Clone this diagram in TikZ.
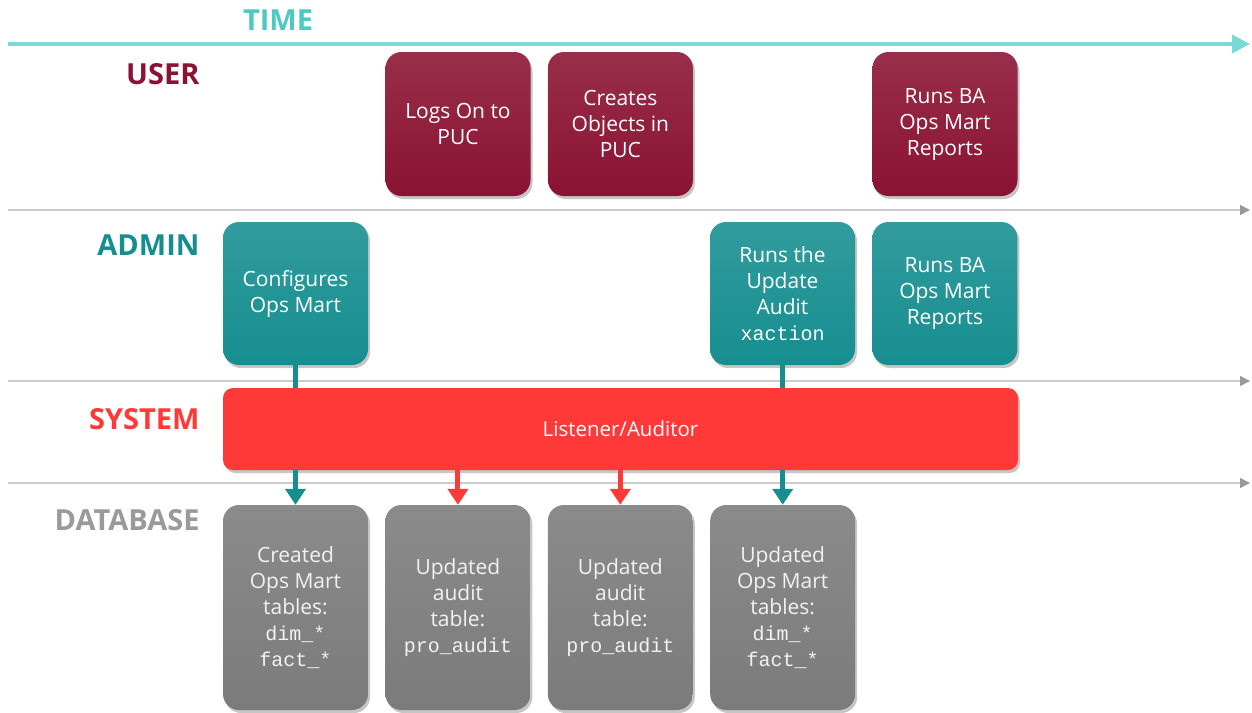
\documentclass[tikz,border=0pt]{standalone}
\usepackage{fontspec}
\setmainfont{Open Sans}
\newfontfamily\codefont{Liberation Mono}
\usetikzlibrary{positioning,shadows,arrows.meta}

\definecolor{timecol}{HTML}{79D9D4}
\definecolor{timetxt}{HTML}{4CC9C3}
\definecolor{usercol}{HTML}{8A1232}
\definecolor{admincol}{HTML}{168E90}
\definecolor{syscol}{HTML}{FF3838}
\definecolor{dbcol}{HTML}{7B7B7B}
\definecolor{dbtxt}{HTML}{9A9A9A}
\definecolor{lanecol}{HTML}{CCCCCC}

\newcommand{\code}[1]{{\codefont\fontsize{20}{26}\selectfont #1}}

\begin{document}
\begin{tikzpicture}[x=1pt,y=1pt,node distance=162.4pt,on grid,
    box/.style={rounded corners=16pt, minimum width=145pt, align=center,
      text=white, font=\fontsize{21}{26}\selectfont,
      drop shadow={shadow xshift=2pt, shadow yshift=-3pt, opacity=0.45}},
    userbox/.style={box, minimum height=144pt, top color=usercol!88!white, bottom color=usercol},
    adminbox/.style={box, minimum height=143pt, top color=admincol!88!white, bottom color=admincol},
    dbbox/.style={box, minimum height=205pt, text=white!95!black, top color=dbcol!88!white, bottom color=dbcol},
    sysbox/.style={box, minimum width=795pt, minimum height=82pt, rounded corners=10pt,
      fill=syscol, font=\fontsize{20.5}{24}\selectfont},
    lanelabel/.style={anchor=east, font=\fontsize{29}{32}\selectfont\bfseries},
    lane/.style={draw=lanecol, line width=1.5pt, -{Triangle[width=10pt,length=10pt,color=black!40]}},
    feed/.style={line width=5pt, -{Triangle[width=20pt,length=16pt]}}]
  \useasboundingbox (0,0) rectangle (1252,-712);

  % time axis and lanes
  \coordinate (t0) at (8,-44);   \coordinate (t1) at (1250,-44);
  \coordinate (a0) at (8,-210);  \coordinate (a1) at (1250,-210);
  \coordinate (s0) at (8,-381);  \coordinate (s1) at (1250,-381);
  \coordinate (d0) at (8,-483);  \coordinate (d1) at (1250,-483);
  \draw[draw=timecol, line width=4pt, -{Triangle[width=18pt,length=18pt]}] (t0) -- (t1);
  \draw[lane] (a0) -- (a1);
  \draw[lane] (s0) -- (s1);
  \draw[lane] (d0) -- (d1);

  \node[font=\fontsize{29}{32}\selectfont\bfseries, text=timetxt] (time) at (278,-20) {TIME};
  \node[lanelabel, text=usercol] (user) at (203,-74) {USER};
  \node[lanelabel, text=admincol] (admin) at (203,-245) {ADMIN};
  \node[lanelabel, text=syscol] (system) at (203,-419) {SYSTEM};
  \node[lanelabel, text=dbtxt] (database) at (203,-520) {DATABASE};

  % user
  \node[userbox] (logon) at (458,-124) {Logs On to\\PUC};
  \node[userbox, right=of logon] (objects) {Creates\\Objects in\\PUC};
  \node[userbox] (userrep) at (945,-124) {Runs BA\\Ops Mart\\Reports};

  % admin
  \node[adminbox] (config) at (295.5,-293.5) {Configures\\Ops Mart};
  \node[adminbox] (update) at (782.5,-293.5) {Runs the\\Update\\Audit\\\code{xaction}};
  \node[adminbox, right=of update] (adminrep) {Runs BA\\Ops Mart\\Reports};

  % system
  \node[sysbox] (listener) at (620.5,-429) {Listener/Auditor};

  % database
  \node[dbbox] (created) at (295.5,-607.5) {Created\\Ops Mart\\tables:\\\code{dim\_*}\\\code{fact\_*}};
  \node[dbbox, right=of created] (audit1) {Updated\\audit\\table:\\\code{pro\_audit}};
  \node[dbbox, right=of audit1] (audit2) {Updated\\audit\\table:\\\code{pro\_audit}};
  \node[dbbox, right=of audit2] (updated) {Updated\\Ops Mart\\tables:\\\code{dim\_*}\\\code{fact\_*}};

  \draw[admincol, line width=5pt] (config.south) -- (config.south |- listener.north);
  \draw[admincol, line width=5pt] (update.south) -- (update.south |- listener.north);
  \draw[feed, admincol] (created.north |- listener.south) -- (created.north);
  \draw[feed, syscol] (audit1.north |- listener.south) -- (audit1.north);
  \draw[feed, syscol] (audit2.north |- listener.south) -- (audit2.north);
  \draw[feed, admincol] (updated.north |- listener.south) -- (updated.north);
\end{tikzpicture}
\end{document}
